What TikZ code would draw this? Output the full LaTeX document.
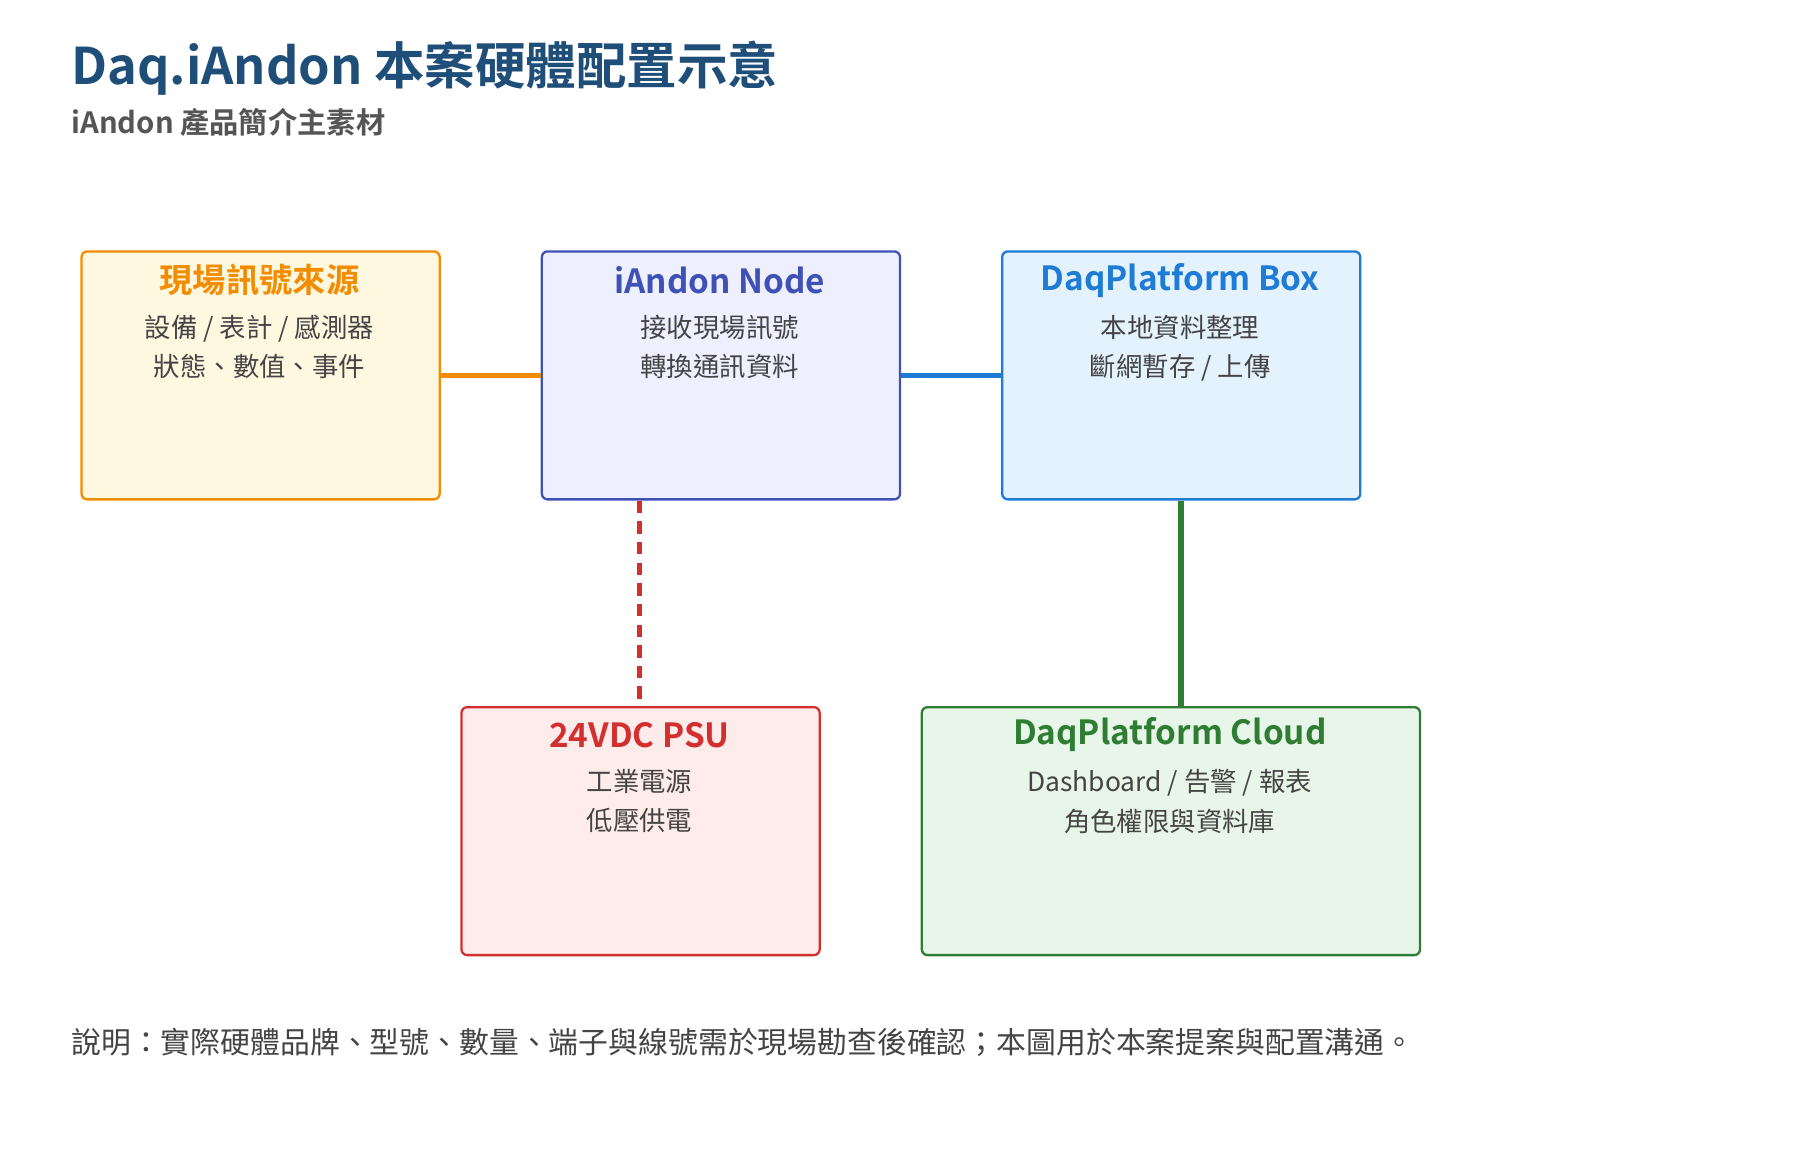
\documentclass[tikz,border=0pt]{standalone}
\usepackage{fontspec}
\setmainfont{Noto Sans CJK TC}[BoldFont={Noto Sans CJK TC Bold}]
\definecolor{ttl}{HTML}{1F4E79}
\definecolor{sub}{HTML}{555555}
\definecolor{txt}{HTML}{444444}
\definecolor{co}{HTML}{F28C00}\definecolor{fo}{HTML}{FFF8E1}
\definecolor{cp}{HTML}{3F51B5}\definecolor{fp}{HTML}{EEF0FF}
\definecolor{cb}{HTML}{1E7BD6}\definecolor{fb}{HTML}{E3F2FD}
\definecolor{cr}{HTML}{D32F2F}\definecolor{fr}{HTML}{FDECEA}
\definecolor{cg}{HTML}{2E7D32}\definecolor{fg}{HTML}{E8F5E9}
\tikzset{
 card/.style={draw=#1,line width=2pt,rounded corners=5pt,minimum height=216pt,anchor=north west,inner sep=0pt},
 cardttl/.style={font=\fontsize{29}{32}\selectfont\bfseries,text=#1,anchor=center},
 cardtxt/.style={font=\fontsize{23}{34}\selectfont,text=txt,align=center,anchor=north},
 link/.style={line width=5pt,#1},
}
\begin{document}
\begin{tikzpicture}[x=1pt,y=-1pt]
\useasboundingbox (0,0) rectangle (1568,1010);
\node[anchor=base west,font=\fontsize{44}{48}\selectfont\bfseries,text=ttl,inner sep=0] (t) at (62,74) {Daq.iAndon 本案硬體配置示意};
\node[anchor=base west,font=\fontsize{25.5}{28}\selectfont\bfseries,text=sub,inner sep=0] (s) at (62,116) {iAndon 產品簡介主素材};
% boxes
\node[card=co,fill=fo,minimum width=312pt] (a) at (70,218) {};
\node[card=cp,fill=fp,minimum width=312pt] (b) at (471,218) {};
\node[card=cb,fill=fb,minimum width=312pt] (c) at (872,218) {};
\node[card=cr,fill=fr,minimum width=312pt] (d) at (401,615) {};
\node[card=cg,fill=fg,minimum width=434pt] (e) at (802,615) {};
% texts
\node[cardttl=co] (at) at (226,244) {現場訊號來源};
\node[cardtxt] (ax) at (226,271) {設備 / 表計 / 感測器\\狀態、數值、事件};
\node[cardttl=cp] (bt) at (627,244) {iAndon Node};
\node[cardtxt] (bx) at (627,271) {接收現場訊號\\轉換通訊資料};
\node[cardttl=cb] (ct) at (1028,244) {DaqPlatform Box};
\node[cardtxt] (cx) at (1028,271) {本地資料整理\\斷網暫存 / 上傳};
\node[cardttl=cr] (dt) at (557,640) {24VDC PSU};
\node[cardtxt] (dx) at (557,667) {工業電源\\低壓供電};
\node[cardttl=cg] (et) at (1019,640) {DaqPlatform Cloud};
\node[cardtxt] (ex) at (1019,667) {Dashboard / 告警 / 報表\\角色權限與資料庫};
% links
\draw[link=co] (a.east) -- (b.west);
\draw[link=cb] (b.east) -- (c.west);
\draw[link=cr,dash pattern=on 11pt off 7pt] (b.south west) ++(86,0) coordinate (p) -- (p |- d.north);
\draw[link=cg] (c.south) -- (c.south |- e.north);
\node[anchor=base west,font=\fontsize{26}{30}\selectfont,text=txt,inner sep=0] (f) at (62,918) {說明：實際硬體品牌、型號、數量、端子與線號需於現場勘查後確認；本圖用於本案提案與配置溝通。};
\end{tikzpicture}
\end{document}
